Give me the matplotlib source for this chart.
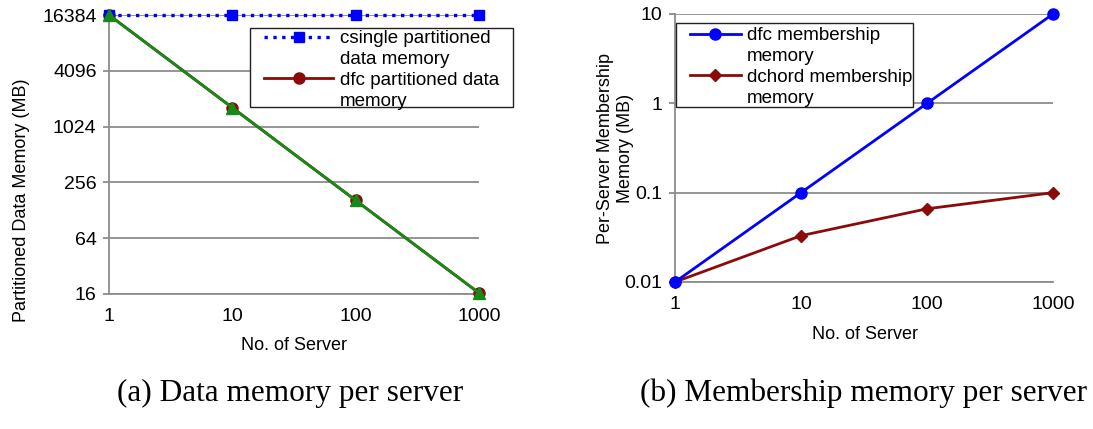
import matplotlib
matplotlib.use("Agg")
import matplotlib.pyplot as plt
from matplotlib.lines import Line2D
from matplotlib.patches import Rectangle
from matplotlib.ticker import FixedLocator, FixedFormatter, NullLocator

servers = [1, 10, 100, 1000]
csingle_mem = [16384, 16384, 16384, 16384]
dfc_data_mem = [16384, 1638.4, 163.84, 16.384]
dfc_data_mem_green = [16384, 1638.4, 163.84, 16.384]
left_yticks = [16, 64, 256, 1024, 4096, 16384]

dfc_member_mem = [0.01, 0.1, 1, 10]
dchord_member_mem = [0.01, 0.033, 0.066, 0.1]
right_yticks = [0.01, 0.1, 1, 10]

GRID = "#8c8c8c"
DARKRED = "#8b0a0a"
SANS = "Liberation Sans"

fig = plt.figure(figsize=(10.93, 4.29), dpi=100)
W, H = 1093, 429
ax1 = fig.add_axes([109 / W, 1 - 294 / H, (479 - 109) / W, (294 - 15) / H])
ax2 = fig.add_axes([675 / W, 1 - 282 / H, (1053 - 675) / W, (282 - 14) / H])


def style(ax, yticks, labels):
    ax.set_xscale("log")
    ax.set_yscale("log")
    ax.set_xlim(1, 1000)
    ax.set_ylim(yticks[0], yticks[-1])
    ax.xaxis.set_major_locator(FixedLocator(servers))
    ax.xaxis.set_major_formatter(FixedFormatter([str(s) for s in servers]))
    ax.xaxis.set_minor_locator(NullLocator())
    ax.yaxis.set_major_locator(FixedLocator(yticks))
    ax.yaxis.set_major_formatter(FixedFormatter(labels))
    ax.yaxis.set_minor_locator(NullLocator())
    ax.grid(axis="y", color=GRID, linewidth=1.3)
    ax.set_axisbelow(True)
    for side in ("top", "right"):
        ax.spines[side].set_visible(False)
    for side in ("left", "bottom"):
        ax.spines[side].set_color(GRID)
        ax.spines[side].set_linewidth(1.3)
    ax.tick_params(axis="both", labelsize=14, color=GRID, width=1.3, length=4)
    ax.tick_params(axis="y", pad=5)
    ax.tick_params(axis="x", length=0, pad=10)
    for lab in ax.get_xticklabels() + ax.get_yticklabels():
        lab.set_fontfamily(SANS)
    ax.set_xlabel("No. of Server", fontsize=13, fontfamily=SANS)


def add_legend(ax, lines, labels, box, handlelength, text_top):
    # box = (left, top, right, bottom) in pixels; handles sit on the first
    # line of each two-line label, as in the original
    x0, y0, x1, y1 = box
    blank = Line2D([], [], linestyle="none")
    handles, texts = [], []
    for line, label in zip(lines, labels):
        first, second = label.split("\n")
        handles += [line, blank]
        texts += [first, second]
    leg = ax.legend(handles, texts, loc="upper left",
                    bbox_to_anchor=((x0 + 14) / W, 1 - text_top / H),
                    bbox_transform=fig.transFigure, borderaxespad=0,
                    frameon=False, prop={"family": SANS, "size": 13.5},
                    handlelength=handlelength, labelspacing=0.2,
                    borderpad=0, handletextpad=0.35)
    ax.add_patch(Rectangle((x0 / W, 1 - y1 / H), (x1 - x0) / W, (y1 - y0) / H,
                           transform=fig.transFigure, facecolor="white",
                           edgecolor="#222222", linewidth=1.0, zorder=8,
                           clip_on=False))
    leg.set_zorder(9)
    return leg


style(ax1, left_yticks, [str(v) for v in left_yticks])
l_cs, = ax1.plot(servers, csingle_mem, color="#0000ff", linestyle=":", linewidth=2.4,
                 marker="s", markersize=7.5, clip_on=False, zorder=4)
l_dfc, = ax1.plot(servers, dfc_data_mem, color=DARKRED, linewidth=2,
                  marker="o", markersize=8, clip_on=False, zorder=3)
ax1.plot(servers, dfc_data_mem_green, color="#168a16", linewidth=2,
         marker="^", markersize=8, clip_on=False, zorder=5)
ax1.set_ylabel("Partitioned Data Memory (MB)", fontsize=13, fontfamily=SANS)
ax1.yaxis.set_label_coords(-0.214, 0.337)
ax1.xaxis.set_label_coords(0.5, -0.154)
add_legend(ax1, [l_cs, l_dfc],
           ["csingle partitioned\ndata memory", "dfc partitioned data\nmemory"],
           (250, 28, 513, 107), 3.7, 30)

style(ax2, right_yticks, ["0.01", "0.1", "1", "10"])
l_dfcm, = ax2.plot(servers, dfc_member_mem, color="#0000ff", linewidth=2,
                   marker="o", markersize=8, clip_on=False, zorder=4)
l_dch, = ax2.plot(servers, dchord_member_mem, color=DARKRED, linewidth=2,
                  marker="D", markersize=6, clip_on=False, zorder=3)
ax2.set_ylabel("Per-Server Membership\nMemory (MB)", fontsize=13, fontfamily=SANS)
ax2.yaxis.set_label_coords(-0.109, 0.5)
ax2.xaxis.set_label_coords(0.503, -0.164)
add_legend(ax2, [l_dfcm, l_dch],
           ["dfc membership\nmemory", "dchord membership\nmemory"],
           (676, 23, 913, 107), 2.7, 27)

fig.text(290 / W, 1 - 393 / H, "(a) Data memory per server", ha="center",
         va="center", fontsize=22.5, fontfamily="Liberation Serif")
fig.text(864 / W, 1 - 393 / H, "(b) Membership memory per server", ha="center",
         va="center", fontsize=22.5, fontfamily="Liberation Serif")

fig.savefig("out.png", dpi=100)
